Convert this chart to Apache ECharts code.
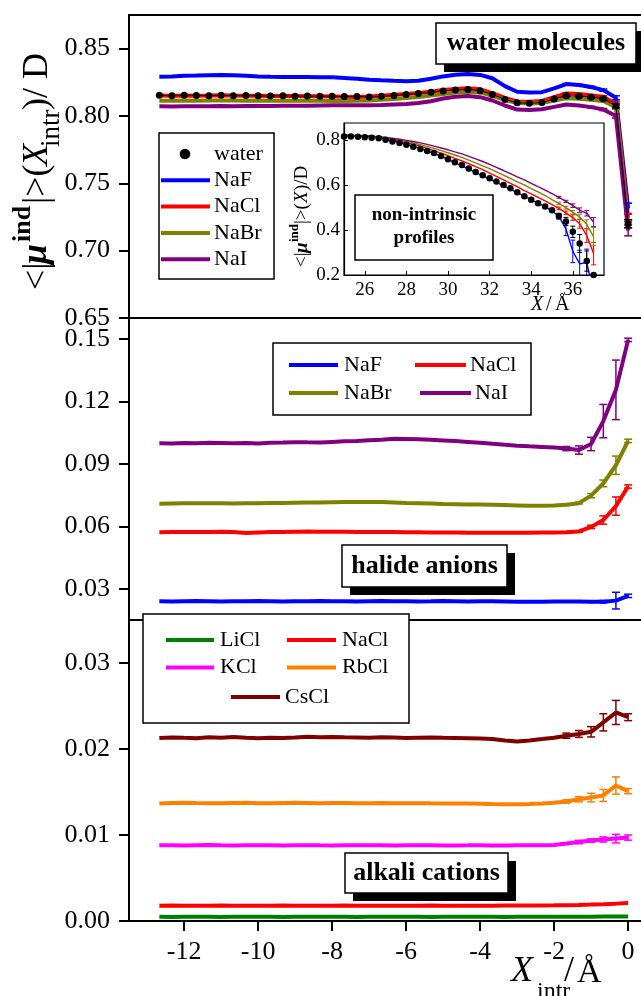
<!DOCTYPE html>
<html>
<head>
<meta charset="utf-8">
<script src="https://cdn.jsdelivr.net/npm/echarts@6/dist/echarts.min.js"></script>
<style>
  html, body { margin: 0; padding: 0; background: #fff; }
  #chart { width: 641px; height: 996px; }
</style>
</head>
<body>
<div id="chart"></div>
<script>
// ---------- data ----------
// intrinsic position grid, X_intr / Å
const xMain = [-12.67,-12.33,-12,-11.67,-11.33,-11,-10.67,-10.33,-10,-9.67,
  -9.33,-9,-8.67,-8.33,-8,-7.67,-7.33,-7,-6.67,-6.33,
  -6,-5.67,-5.33,-5,-4.67,-4.33,-4,-3.67,-3.33,-3,
  -2.67,-2.33,-2,-1.67,-1.33,-1,-0.67,-0.33,0];

// water molecules panel
const waterTop = [0.8154,0.8150,0.8155,0.8152,0.8151,0.8155,0.8150,0.8152,0.8150,0.8148,
  0.8151,0.8147,0.8148,0.8146,0.8147,0.8144,0.8145,0.8142,0.8146,0.8153,
  0.8160,0.8167,0.8176,0.8186,0.8193,0.8196,0.8188,0.8160,0.8123,0.8098,
  0.8095,0.8100,0.8126,0.8150,0.8147,0.8139,0.8128,0.8075,0.7200];
const nafTop = [0.8292,0.8294,0.8298,0.8300,0.8303,0.8305,0.8302,0.8298,0.8294,0.8291,
  0.8290,0.8289,0.8289,0.8288,0.8287,0.8282,0.8276,0.8270,0.8265,0.8261,
  0.8258,0.8262,0.8277,0.8294,0.8306,0.8312,0.8305,0.8280,0.8222,0.8180,
  0.8175,0.8177,0.8205,0.8237,0.8230,0.8215,0.8192,0.8135,0.7313];
const naclTop = [0.8152,0.8150,0.8153,0.8151,0.8152,0.8154,0.8152,0.8150,0.8151,0.8149,
  0.8148,0.8149,0.8147,0.8146,0.8145,0.8143,0.8142,0.8144,0.8150,0.8158,
  0.8164,0.8170,0.8180,0.8193,0.8201,0.8206,0.8198,0.8170,0.8135,0.8108,
  0.8105,0.8112,0.8140,0.8168,0.8163,0.8153,0.8143,0.8090,0.7246];
const nabrTop = [0.8113,0.8114,0.8115,0.8114,0.8115,0.8116,0.8115,0.8114,0.8115,0.8114,
  0.8113,0.8114,0.8113,0.8113,0.8112,0.8112,0.8113,0.8115,0.8120,0.8127,
  0.8134,0.8141,0.8152,0.8163,0.8174,0.8180,0.8175,0.8150,0.8118,0.8096,
  0.8093,0.8096,0.8115,0.8132,0.8128,0.8121,0.8112,0.8065,0.7200];
const naiTop = [0.8072,0.8071,0.8073,0.8072,0.8073,0.8074,0.8073,0.8074,0.8075,0.8075,
  0.8076,0.8077,0.8077,0.8078,0.8079,0.8079,0.8080,0.8080,0.8082,0.8086,
  0.8090,0.8096,0.8110,0.8130,0.8143,0.8148,0.8140,0.8115,0.8078,0.8048,
  0.8044,0.8050,0.8068,0.8085,0.8078,0.8066,0.8048,0.8000,0.7150];

// halide anions panel
const nafMid = [0.0240,0.0239,0.0240,0.0241,0.0240,0.0239,0.0240,0.0240,0.0241,0.0240,
  0.0239,0.0240,0.0240,0.0241,0.0240,0.0240,0.0239,0.0240,0.0241,0.0240,
  0.0240,0.0239,0.0240,0.0241,0.0240,0.0239,0.0240,0.0240,0.0239,0.0238,
  0.0238,0.0238,0.0239,0.0239,0.0239,0.0238,0.0238,0.0243,0.0266];
const naclMid = [0.0571,0.0572,0.0573,0.0572,0.0573,0.0574,0.0572,0.0568,0.0570,0.0572,
  0.0573,0.0574,0.0575,0.0574,0.0574,0.0574,0.0573,0.0573,0.0572,0.0572,
  0.0571,0.0571,0.0570,0.0570,0.0570,0.0569,0.0569,0.0569,0.0569,0.0569,
  0.0569,0.0570,0.0570,0.0571,0.0575,0.0597,0.0630,0.0697,0.0791];
const nabrMid = [0.0708,0.0709,0.0710,0.0710,0.0711,0.0710,0.0709,0.0710,0.0711,0.0712,
  0.0712,0.0713,0.0714,0.0714,0.0715,0.0716,0.0717,0.0717,0.0716,0.0714,
  0.0712,0.0711,0.0709,0.0707,0.0706,0.0705,0.0704,0.0703,0.0702,0.0700,
  0.0698,0.0698,0.0700,0.0703,0.0711,0.0747,0.0806,0.0893,0.1010];
const naiMid = [0.0999,0.0998,0.1000,0.0999,0.1001,0.1000,0.0999,0.1000,0.0998,0.1001,
  0.1002,0.1004,0.1003,0.1002,0.1005,0.1008,0.1010,0.1013,0.1016,0.1020,
  0.1019,0.1018,0.1015,0.1012,0.1009,0.1005,0.1001,0.0996,0.0991,0.0987,
  0.0984,0.0981,0.0978,0.0973,0.0966,0.0995,0.1105,0.1255,0.1495];

// alkali cations panel
const liclBot = [0.00048,0.00047,0.00048,0.00049,0.00048,0.00047,0.00048,0.00048,0.00049,0.00048,
  0.00047,0.00048,0.00048,0.00049,0.00048,0.00048,0.00047,0.00048,0.00048,0.00049,
  0.00048,0.00048,0.00047,0.00048,0.00048,0.00049,0.00048,0.00048,0.00047,0.00048,
  0.00048,0.00048,0.00049,0.00049,0.00050,0.00050,0.00051,0.00051,0.00052];
const naclBot = [0.00178,0.00179,0.00178,0.00177,0.00178,0.00179,0.00178,0.00178,0.00177,0.00178,
  0.00179,0.00178,0.00178,0.00177,0.00178,0.00179,0.00178,0.00178,0.00178,0.00177,
  0.00178,0.00178,0.00179,0.00178,0.00178,0.00177,0.00178,0.00178,0.00179,0.00179,
  0.00180,0.00181,0.00182,0.00184,0.00187,0.00191,0.00196,0.00202,0.00210];
const kclBot = [0.00880,0.00882,0.00878,0.00881,0.00883,0.00880,0.00879,0.00882,0.00881,0.00880,
  0.00878,0.00881,0.00882,0.00880,0.00879,0.00881,0.00880,0.00882,0.00881,0.00879,
  0.00880,0.00881,0.00880,0.00878,0.00879,0.00880,0.00881,0.00879,0.00878,0.00880,
  0.00881,0.00882,0.00885,0.00900,0.00918,0.00935,0.00948,0.00958,0.00970];
const rbclBot = [0.01365,0.01372,0.01375,0.01372,0.01370,0.01368,0.01372,0.01374,0.01370,0.01368,
  0.01372,0.01375,0.01373,0.01370,0.01372,0.01371,0.01368,0.01370,0.01372,0.01370,
  0.01369,0.01370,0.01368,0.01367,0.01366,0.01365,0.01363,0.01360,0.01358,0.01357,
  0.01360,0.01365,0.01375,0.01390,0.01415,0.01435,0.01460,0.01576,0.01510];
const csclBot = [0.02128,0.02135,0.02130,0.02126,0.02138,0.02132,0.02140,0.02130,0.02125,0.02130,
  0.02128,0.02133,0.02142,0.02138,0.02140,0.02136,0.02133,0.02130,0.02136,0.02134,
  0.02128,0.02132,0.02135,0.02130,0.02128,0.02125,0.02122,0.02115,0.02100,0.02088,
  0.02100,0.02115,0.02130,0.02155,0.02175,0.02200,0.02310,0.02425,0.02370];

// error bars on the last six grid points of each profile
const waterTopErr = [0.0005,0.0005,0.0006,0.0008,0.0015,0.0030];
const nafTopErr   = [0.0005,0.0005,0.0006,0.0008,0.0015,0.0040];
const naclTopErr  = [0.0005,0.0005,0.0006,0.0008,0.0015,0.0030];
const nabrTopErr  = [0.0005,0.0005,0.0006,0.0008,0.0015,0.0030];
const naiTopErr   = [0.0005,0.0005,0.0006,0.0008,0.0015,0.0040];
const nafMidErr   = [0.0003,0.0003,0.0004,0.0006,0.0040,0.0008];
const naclMidErr  = [0.0003,0.0004,0.0008,0.0020,0.0044,0.0008];
const nabrMidErr  = [0.0003,0.0004,0.0010,0.0016,0.0044,0.0008];
const naiMidErr   = [0.0010,0.0020,0.0032,0.0080,0.0143,0.0008];
const kclBotErr   = [0.0001,0.0002,0.0002,0.0003,0.0005,0.0003];
const rbclBotErr  = [0.0002,0.0003,0.0005,0.0007,0.0010,0.0003];
const csclBotErr  = [0.0003,0.0004,0.0006,0.0010,0.0014,0.0004];

// non-intrinsic profiles (inset), X / Å
const xInset = [25,25.33,25.67,26,26.33,26.67,27,27.33,27.67,28,
  28.33,28.67,29,29.33,29.67,30,30.33,30.67,31,31.33,
  31.67,32,32.33,32.67,33,33.33,33.67,34,34.33,34.67,
  35,35.33,35.67,36,36.33,36.67,37];
const waterIn = [0.815,0.815,0.814,0.812,0.810,0.807,0.801,0.793,0.786,0.778,
  0.769,0.760,0.751,0.742,0.729,0.714,0.701,0.688,0.673,0.657,
  0.643,0.630,0.615,0.600,0.585,0.567,0.550,0.534,0.519,0.504,
  0.488,0.462,0.438,0.392,0.340,0.262,0.200];
const nafIn = [0.822,0.821,0.819,0.817,0.814,0.810,0.804,0.797,0.789,0.780,
  0.771,0.761,0.751,0.740,0.727,0.713,0.699,0.685,0.670,0.655,
  0.640,0.626,0.611,0.596,0.581,0.565,0.550,0.534,0.519,0.503,
  0.485,0.460,0.405,0.305,0.250,0.255,0.120];
const naclIn = [0.818,0.818,0.817,0.816,0.814,0.811,0.806,0.800,0.794,0.788,
  0.780,0.772,0.762,0.752,0.741,0.730,0.718,0.707,0.694,0.681,
  0.668,0.652,0.638,0.622,0.607,0.592,0.575,0.560,0.545,0.529,
  0.513,0.496,0.476,0.455,0.428,0.375,0.295];
const nabrIn = [0.818,0.818,0.817,0.817,0.815,0.813,0.809,0.804,0.799,0.793,
  0.786,0.779,0.771,0.762,0.752,0.743,0.733,0.722,0.710,0.698,
  0.685,0.672,0.658,0.643,0.629,0.614,0.600,0.584,0.569,0.553,
  0.535,0.518,0.499,0.478,0.458,0.425,0.370];
const naiIn = [0.818,0.818,0.818,0.817,0.816,0.814,0.811,0.807,0.803,0.798,
  0.793,0.787,0.780,0.772,0.764,0.756,0.747,0.738,0.727,0.716,
  0.704,0.691,0.678,0.664,0.650,0.636,0.622,0.607,0.592,0.577,
  0.561,0.545,0.527,0.508,0.488,0.474,0.435];
const waterInErr = [0.012,0.018,0.025,0.040,0.045,0.000];
const nafInErr   = [0.012,0.030,0.050,0.060,0.060,0.060];
const naclInErr  = [0.006,0.008,0.012,0.020,0.030,0.050];
const nabrInErr  = [0.005,0.006,0.008,0.012,0.020,0.040];
const naiInErr   = [0.004,0.005,0.008,0.010,0.012,0.020];

// tick labels
const xTicks = [-12,-10,-8,-6,-4,-2,0];
const yTicksTop = [0.65,0.70,0.75,0.80,0.85];
const yTicksMid = [0.03,0.06,0.09,0.12,0.15];
const yTicksBot = [0.00,0.01,0.02,0.03];
const xTicksInset = [26,28,30,32,34,36];
const yTicksInset = [0.2,0.4,0.6,0.8];

// ---------- styling ----------
const SERIF = "'Liberation Serif', 'Times New Roman', serif";
const fnt = (size, style) => (style ? style + ' ' : '') + size + 'px ' + SERIF;
const COLOR = {
  water: '#000000', NaF: '#0000ff', NaCl: '#ff0000', NaBr: '#808000', NaI: '#800080',
  LiCl: '#008000', KCl: '#ff00ff', RbCl: '#ff8000', CsCl: '#800000'
};

const pts = (xs, ys) => xs.map((x, i) => [x, ys[i]]);

function lineSeries(name, axis, xs, ys, width) {
  return {
    name, type: 'line', xAxisIndex: axis, yAxisIndex: axis,
    data: pts(xs, ys), symbol: 'none', silent: true,
    lineStyle: { color: COLOR[name], width: width },
    itemStyle: { color: COLOR[name] }, z: 3
  };
}

function dotSeries(name, axis, xs, ys, size, lineWidth) {
  return {
    name, type: 'line', xAxisIndex: axis, yAxisIndex: axis,
    data: pts(xs, ys), symbol: 'circle', symbolSize: size, showSymbol: true, silent: true,
    lineStyle: { color: COLOR[name], width: lineWidth, opacity: lineWidth ? 1 : 0 },
    itemStyle: { color: COLOR[name] }, z: 5
  };
}

// vertical error bars with caps, attached to the last points of a profile
function errorSeries(name, axis, xs, ys, errs, cap, width) {
  const off = xs.length - errs.length;
  const data = errs.map((e, i) => [xs[off + i], ys[off + i] - e, ys[off + i] + e]);
  const color = COLOR[name];
  return {
    type: 'custom', xAxisIndex: axis, yAxisIndex: axis, data, silent: true, clip: true, z: 4,
    encode: { x: 0, y: [1, 2] },
    renderItem(params, api) {
      const x = api.value(0);
      const lo = api.coord([x, api.value(1)]);
      const hi = api.coord([x, api.value(2)]);
      const st = () => ({ stroke: color, lineWidth: width });
      return {
        type: 'group', children: [
          { type: 'line', shape: { x1: lo[0], y1: lo[1], x2: hi[0], y2: hi[1] }, style: st() },
          { type: 'line', shape: { x1: hi[0] - cap, y1: hi[1], x2: hi[0] + cap, y2: hi[1] }, style: st() },
          { type: 'line', shape: { x1: lo[0] - cap, y1: lo[1], x2: lo[0] + cap, y2: lo[1] }, style: st() }
        ]
      };
    }
  };
}

// ---------- axes ----------
// the three stacked panels reach the right edge of the canvas; their frame is
// drawn by axis lines (left, top, bottom) so that no right-hand edge appears
const X_MIN = -13.49, X_MAX = 0.348;
const gridBase = { show: false, containLabel: false, outerBoundsMode: 'none' };
const grids = [
  Object.assign({}, gridBase, { left: 129, top: 15, width: 512, height: 303 }),
  Object.assign({}, gridBase, { left: 129, top: 318, width: 512, height: 302 }),
  Object.assign({}, gridBase, { left: 129, top: 620, width: 512, height: 301 }),
  { show: true, borderColor: '#000', borderWidth: 1.2, backgroundColor: '#fff',
    containLabel: false, outerBoundsMode: 'none', left: 344, top: 123, width: 260, height: 152 }
];

const frameLine = { show: true, onZero: false, lineStyle: { color: '#000', width: 2 } };

function frameX(i) {
  return { type: 'value', gridIndex: i, min: X_MIN, max: X_MAX, position: 'top',
    splitLine: { show: false }, axisLine: frameLine,
    axisTick: { show: false }, axisLabel: { show: false } };
}

function mainY(i, min, max, ticks) {
  return {
    type: 'value', gridIndex: i, min, max,
    splitLine: { show: false },
    axisLine: frameLine,
    axisTick: { show: true, inside: false, length: 10, lineStyle: { color: '#000', width: 2 },
      customValues: ticks },
    axisLabel: { show: true, customValues: ticks, margin: 19, color: '#000',
      fontFamily: SERIF, fontSize: 26, formatter: v => v.toFixed(2) }
  };
}

const xAxes = [
  frameX(0), frameX(1),
  {
    type: 'value', gridIndex: 2, min: X_MIN, max: X_MAX, position: 'bottom',
    splitLine: { show: false },
    axisLine: frameLine,
    axisTick: { show: true, inside: false, length: 10, lineStyle: { color: '#000', width: 2 },
      customValues: xTicks },
    axisLabel: { show: true, customValues: xTicks, margin: 18, color: '#000',
      fontFamily: SERIF, fontSize: 26, formatter: v => String(v) }
  },
  {
    type: 'value', gridIndex: 3, min: 25, max: 37.5,
    splitLine: { show: false },
    axisLine: { show: true, onZero: false, lineStyle: { color: '#000', width: 1.2 } },
    axisTick: { show: true, inside: true, length: 4, lineStyle: { color: '#000', width: 1 },
      customValues: xTicksInset },
    axisLabel: { show: true, customValues: xTicksInset, margin: 6, color: '#000',
      fontFamily: SERIF, fontSize: 19, formatter: v => String(v) }
  },
  frameX(2)
];

const yAxes = [
  mainY(0, 0.65, 0.875, yTicksTop),
  mainY(1, 0.015, 0.16, yTicksMid),
  mainY(2, 0, 0.035, yTicksBot),
  {
    type: 'value', gridIndex: 3, min: 0.2, max: 0.875,
    splitLine: { show: false },
    axisLine: { show: true, onZero: false, lineStyle: { color: '#000', width: 1.2 } },
    axisTick: { show: true, inside: true, length: 4, lineStyle: { color: '#000', width: 1 },
      customValues: yTicksInset },
    axisLabel: { show: true, customValues: yTicksInset, margin: 4, color: '#000',
      fontFamily: SERIF, fontSize: 19, formatter: v => v.toFixed(1) }
  }
];

// ---------- series ----------
const LW = 4;
const series = [
  // water molecules
  lineSeries('NaF', 0, xMain, nafTop, LW),
  lineSeries('NaCl', 0, xMain, naclTop, LW),
  lineSeries('NaBr', 0, xMain, nabrTop, LW),
  lineSeries('NaI', 0, xMain, naiTop, LW),
  dotSeries('water', 0, xMain, waterTop, 7, 1),
  errorSeries('NaF', 0, xMain, nafTop, nafTopErr, 4, 1.5),
  errorSeries('NaCl', 0, xMain, naclTop, naclTopErr, 4, 1.5),
  errorSeries('NaBr', 0, xMain, nabrTop, nabrTopErr, 4, 1.5),
  errorSeries('NaI', 0, xMain, naiTop, naiTopErr, 4, 1.5),
  errorSeries('water', 0, xMain, waterTop, waterTopErr, 4, 1.5),
  // halide anions
  lineSeries('NaF', 1, xMain, nafMid, LW),
  lineSeries('NaCl', 1, xMain, naclMid, LW),
  lineSeries('NaBr', 1, xMain, nabrMid, LW),
  lineSeries('NaI', 1, xMain, naiMid, LW),
  errorSeries('NaF', 1, xMain, nafMid, nafMidErr, 4, 1.5),
  errorSeries('NaCl', 1, xMain, naclMid, naclMidErr, 4, 1.5),
  errorSeries('NaBr', 1, xMain, nabrMid, nabrMidErr, 4, 1.5),
  errorSeries('NaI', 1, xMain, naiMid, naiMidErr, 4, 1.5),
  // alkali cations
  lineSeries('LiCl', 2, xMain, liclBot, LW),
  lineSeries('NaCl', 2, xMain, naclBot, LW),
  lineSeries('KCl', 2, xMain, kclBot, LW),
  lineSeries('RbCl', 2, xMain, rbclBot, LW),
  lineSeries('CsCl', 2, xMain, csclBot, LW),
  errorSeries('KCl', 2, xMain, kclBot, kclBotErr, 4, 1.5),
  errorSeries('RbCl', 2, xMain, rbclBot, rbclBotErr, 4, 1.5),
  errorSeries('CsCl', 2, xMain, csclBot, csclBotErr, 4, 1.5),
  // non-intrinsic inset
  lineSeries('NaF', 3, xInset, nafIn, 1.4),
  lineSeries('NaCl', 3, xInset, naclIn, 1.4),
  lineSeries('NaBr', 3, xInset, nabrIn, 1.4),
  lineSeries('NaI', 3, xInset, naiIn, 1.4),
  dotSeries('water', 3, xInset, waterIn, 6.5, 0),
  errorSeries('NaF', 3, xInset, nafIn, nafInErr, 2.5, 1),
  errorSeries('NaCl', 3, xInset, naclIn, naclInErr, 2.5, 1),
  errorSeries('NaBr', 3, xInset, nabrIn, nabrInErr, 2.5, 1),
  errorSeries('NaI', 3, xInset, naiIn, naiInErr, 2.5, 1),
  errorSeries('water', 3, xInset, waterIn, waterInErr, 2.5, 1)
];

// ---------- annotations ----------
function txt(text, x, y, size, style, align) {
  return { type: 'text', z: 110, style: { text, x, y, font: fnt(size, style), fill: '#000',
    textAlign: align || 'left', align: align || 'left',
    textVerticalAlign: 'middle', verticalAlign: 'middle' } };
}
function box(x, y, w, h, lw) {
  return { type: 'rect', z: 100, shape: { x, y, width: w, height: h },
    style: { fill: '#fff', stroke: '#000', lineWidth: lw || 1.5 } };
}
function shadow(x, y, w, h, d) {
  return { type: 'rect', z: 99, shape: { x: x + d, y: y + d, width: w, height: h },
    style: { fill: '#000' } };
}
function sample(name, x1, x2, y) {
  return { type: 'line', z: 105, shape: { x1, y1: y, x2, y2: y },
    style: { stroke: COLOR[name], lineWidth: 4 } };
}
function titleBox(label, x, y, w, h) {
  return [shadow(x, y, w, h, 8), box(x, y, w, h), txt(label, x + w / 2, y + h / 2, 26, 'bold', 'center')];
}

const legendTop = ['water', 'NaF', 'NaCl', 'NaBr', 'NaI'];
const legendMid = [['NaF', 'NaCl'], ['NaBr', 'NaI']];
const legendBot = [['LiCl', 'NaCl'], ['KCl', 'RbCl']];

const graphics = [];
// water molecules legend
graphics.push(box(159, 133, 115, 146));
legendTop.forEach((name, i) => {
  const y = 154 + i * 26.3;
  if (name === 'water') {
    graphics.push({ type: 'circle', z: 105, shape: { cx: 185, cy: y, r: 5.3 }, style: { fill: '#000' } });
  } else {
    graphics.push(sample(name, 161, 210, y));
  }
  graphics.push(txt(name, 214, y, 22));
});
// halide anions legend
graphics.push(box(273, 343, 258, 72));
legendMid.forEach((row, r) => {
  const y = 365 + r * 28;
  graphics.push(sample(row[0], 289, 338, y), txt(row[0], 344, y, 22));
  const sx = r === 0 ? 415 : 420;
  graphics.push(sample(row[1], sx, sx + 51, y), txt(row[1], sx + 55, y, 22));
});
// alkali cations legend
graphics.push(box(143, 614, 266, 109));
legendBot.forEach((row, r) => {
  const y = 640 + r * 27.5;
  graphics.push(sample(row[0], 166, 214, y), txt(row[0], 220, y, 22));
  graphics.push(sample(row[1], 287, 336, y), txt(row[1], 342, y, 22));
});
graphics.push(sample('CsCl', 231, 280, 697), txt('CsCl', 285, 697, 22));

// panel labels
graphics.push(...titleBox('water molecules', 436, 23, 200, 41));
graphics.push(...titleBox('halide anions', 342, 545, 165, 42));
graphics.push(...titleBox('alkali cations', 345, 853, 163, 40));
graphics.push(box(355, 195, 138, 65));
graphics.push(txt('non-intrinsic', 424, 215, 19, 'bold', 'center'));
graphics.push(txt('profiles', 424, 238, 19, 'bold', 'center'));

// rotated y-axis title: <|μ^ind|>(X_intr) / D
function piece(text, x, y, size, style) {
  return { type: 'text', style: { text, x, y, font: fnt(size, style), fill: '#000',
    textAlign: 'left', align: 'left', textVerticalAlign: 'middle', verticalAlign: 'middle' } };
}
graphics.push({
  type: 'group', x: 48, y: 290, rotation: Math.PI / 2, z: 110,
  children: [
    piece('<|', 0, -10.8, 36),
    piece('\u03bc', 26, -10.8, 36, 'italic bold'),
    piece('ind', 48, -24.8, 26, 'bold'),
    piece('|>(', 86, -10.8, 36),
    piece('X', 124, -10.8, 36, 'italic'),
    piece('intr', 143, 3.9, 27),
    piece(')/ D', 180, -10.8, 36)
  ]
});
// inset y-axis title: <|μ^ind|>(X)/D
graphics.push({
  type: 'group', x: 308, y: 267, rotation: Math.PI / 2, z: 110,
  children: [
    piece('<|', 0, -5.7, 19),
    piece('\u03bc', 14, -5.7, 19, 'italic bold'),
    piece('ind', 25, -13, 13, 'bold'),
    piece('|>(', 43, -5.7, 19),
    piece('X', 64, -5.7, 19, 'italic'),
    piece(')/D', 76, -5.7, 19)
  ]
});
// x-axis titles
graphics.push(
  piece('X', 511, 972, 36, 'italic'),
  piece('intr', 537, 992, 24),
  piece('/', 564, 972, 36),
  piece('\u00c5', 577, 973, 34)
);
graphics.push(
  piece('X', 531, 305, 20, 'italic'),
  piece('/', 546, 305, 20),
  piece('\u00c5', 555, 305, 20)
);

// ---------- chart ----------
const chart = echarts.init(document.getElementById('chart'), null, { renderer: 'canvas' });
chart.setOption({
  animation: false,
  backgroundColor: '#fff',
  textStyle: { fontFamily: SERIF },
  grid: grids,
  xAxis: xAxes,
  yAxis: yAxes,
  series: series,
  graphic: { elements: graphics }
});
</script>
</body>
</html>
